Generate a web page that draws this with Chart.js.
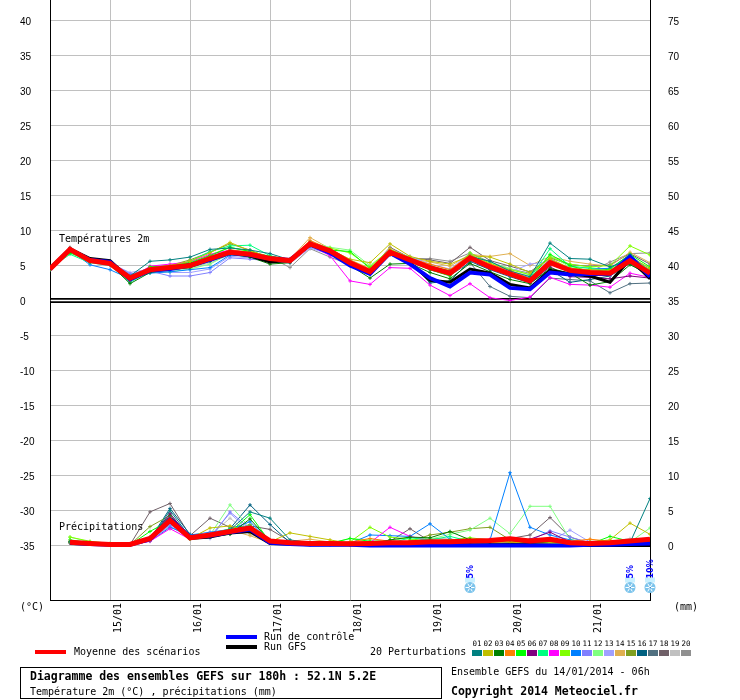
<!DOCTYPE html>
<html><head><meta charset="utf-8">
<script src="https://cdn.jsdelivr.net/npm/chart.js@4.4.1/dist/chart.umd.min.js"></script>
<style>html,body{margin:0;padding:0;background:#fff}canvas{display:block}</style>
</head><body>
<canvas id="c" width="740" height="700" style="width:740px;height:700px"></canvas>
<script>
// ---- categories / ticks ----
const hours = [0,6,12,18,24,30,36,42,48,54,60,66,72,78,84,90,96,102,108,114,120,126,132,138,144,150,156,162,168,174,180];
const dateTicks = [18,42,66,90,114,138,162];
const dateLabels = ['15/01','16/01','17/01','18/01','19/01','20/01','21/01'];
const tempTicks = [40,35,30,25,20,15,10,5,0,-5,-10,-15,-20,-25,-30,-35];
const precipTicks = [75,70,65,60,55,50,45,40,35,30,25,20,15,10,5,0];
const memberNames = ['01','02','03','04','05','06','07','08','09','10','11','12','13','14','15','16','17','18','19','20'];
const memberColors = ['#008080','#c0c000','#008000','#ff8000','#00ff00','#800080','#00ff80','#ff00ff','#80ff00','#0080ff','#8080ff','#80ff80','#a0a0ff','#e0b050','#80a020','#006080','#507080','#706068','#c0c0c0','#909090'];
const snowHours = [126,174,180];
const snowPct = [5,5,10];

// ---- temperature 2m (°C) ----
const tempMean    = [4.5,7.3,5.7,5.3,3.2,4.4,4.7,5.0,6.0,6.9, 6.6,6.0,5.7,8.1,7.1,5.4,4.1,6.9,5.8,4.7, 3.9,6.1,4.8,3.8,2.8,5.4,4.3,4.0,3.9,5.7, 3.9];
const tempControl = [4.5,7.3,5.8,5.5,3.0,4.3,4.5,5.0,5.8,6.8, 6.5,6.0,5.8,8.0,6.8,5.0,3.8,6.8,5.2,3.2, 2.0,4.0,3.7,1.8,1.6,4.0,3.7,3.8,3.8,6.3, 3.4];
const tempGfs     = [4.5,7.4,6.0,5.7,3.1,4.3,4.6,5.1,5.9,6.9, 6.4,5.5,5.7,8.0,7.0,5.2,3.9,6.9,5.4,2.9, 2.6,4.5,3.9,2.3,1.8,4.3,3.8,3.5,2.6,5.9, 3.1];
const tempMembers = [
 [4.6,7.2,5.6,5.4,3.5,5.6,5.8,6.2,7.3,7.5, 7.2,6.7,5.8,8.3,7.0,5.6,4.3,7.0,5.9,4.8, 4.2,6.3,5.6,4.2,3.4,8.2,6.0,5.9,4.8,5.8, 4.2],
 [4.5,7.4,5.8,5.3,3.0,4.6,5.0,5.6,6.8,8.3, 7.1,6.2,5.9,8.2,7.3,5.9,5.4,8.1,6.3,5.6, 5.2,6.4,6.2,5.2,4.0,6.0,4.6,4.4,4.3,6.2, 4.6],
 [4.4,7.0,5.5,5.2,2.4,4.0,4.4,4.7,5.6,6.6, 6.2,5.2,5.4,7.8,6.8,5.0,3.2,5.2,5.3,4.0, 3.1,5.3,4.1,3.0,2.4,4.6,3.9,2.2,2.7,5.1, 3.7],
 [4.5,7.3,5.7,5.3,3.3,4.5,4.8,5.2,6.2,7.2, 6.8,6.1,5.6,8.6,7.3,5.7,4.5,7.2,6.0,5.2, 4.4,6.5,5.2,4.3,3.1,5.8,4.6,4.2,4.1,6.0, 4.3],
 [4.6,6.8,5.6,5.3,2.9,4.8,4.9,5.4,6.4,7.6, 7.0,6.3,5.8,8.0,7.2,7.0,4.6,7.0,5.7,4.4, 3.5,5.9,4.6,3.6,3.0,6.6,5.0,4.1,4.5,6.6, 4.8],
 [4.4,7.2,5.6,5.1,2.8,4.2,4.5,5.1,6.1,7.1, 6.5,5.8,5.5,8.0,7.1,5.5,4.0,6.8,5.6,4.5, 3.7,5.8,4.5,3.6,2.6,4.8,3.4,3.3,3.1,3.5, 3.2],
 [4.6,6.6,5.4,5.0,2.6,4.2,4.8,5.6,7.0,7.8, 7.9,6.4,5.7,8.2,7.0,5.6,4.3,7.1,5.9,5.0, 4.1,6.6,5.0,4.0,3.2,7.4,4.9,4.6,4.2,6.1, 4.4],
 [4.5,7.3,5.7,5.4,3.1,4.9,5.2,5.5,6.6,7.2, 6.7,6.0,5.8,7.9,6.4,2.8,2.3,4.7,4.6,2.2, 0.7,2.4,0.4,0.0,0.5,3.3,2.3,2.2,1.9,3.9, 3.3],
 [4.5,7.1,5.7,5.3,3.0,4.1,4.6,5.2,6.5,7.6, 7.0,6.2,5.7,7.9,7.5,6.8,4.8,7.3,6.1,5.0, 4.0,6.8,5.3,4.4,3.7,6.2,5.2,4.8,5.0,7.8, 6.5],
 [4.4,7.2,5.1,4.4,3.1,3.9,4.1,4.4,4.7,6.5, 6.3,5.9,5.6,7.9,6.9,5.3,3.9,6.7,5.9,4.5, 3.7,5.9,4.6,3.5,2.7,5.9,4.3,4.5,4.6,6.5, 4.2],
 [4.6,7.3,5.8,5.5,3.8,4.2,3.5,3.5,4.0,6.1, 5.9,5.7,5.5,7.7,6.7,5.2,3.8,6.6,5.8,4.9, 4.0,6.0,4.6,3.9,3.3,5.3,4.0,3.7,3.6,5.5, 3.6],
 [4.5,7.0,5.6,5.2,2.9,4.0,4.1,4.5,5.2,6.7, 6.8,6.0,5.8,8.3,7.6,7.2,5.0,7.2,6.2,4.9, 4.3,6.4,5.4,4.6,3.6,6.4,4.8,4.7,4.4,6.3, 4.6],
 [4.5,7.2,5.6,5.3,4.0,4.5,4.0,4.0,4.5,6.3, 6.1,5.8,5.3,7.5,6.6,5.2,4.2,6.9,6.3,5.2, 4.5,6.7,4.9,4.1,5.2,5.6,4.7,4.3,3.8,5.8, 3.9],
 [4.5,7.3,5.8,5.4,3.4,4.5,4.7,5.1,6.1,7.3, 6.8,6.3,5.9,9.0,7.4,5.8,4.6,7.4,6.0,5.5, 4.9,6.6,6.3,6.7,5.0,6.3,5.6,5.2,4.9,6.9, 5.4],
 [4.4,7.2,5.7,5.3,3.2,4.8,5.0,5.8,6.9,8.1, 7.2,6.0,5.6,8.0,6.9,5.4,4.0,6.9,5.7,4.6, 3.9,5.8,4.9,3.7,2.9,5.2,4.2,3.9,3.7,5.9, 4.0],
 [4.5,7.4,5.9,5.4,3.3,4.6,4.9,5.3,6.1,7.1, 6.6,6.1,5.5,7.8,6.9,5.3,4.2,6.8,5.6,2.5, 2.8,5.6,4.4,3.4,2.5,4.4,2.6,3.0,3.5,5.3, 3.3],
 [4.5,7.3,5.8,5.4,3.2,4.5,4.8,5.0,5.9,6.9, 6.4,5.9,5.7,8.1,7.0,5.1,3.8,6.5,5.5,4.4, 3.6,5.4,2.0,0.6,0.4,3.2,3.0,2.8,1.1,2.4, 2.5],
 [4.6,7.5,5.9,5.6,3.6,4.7,4.9,5.3,6.3,7.2, 6.9,6.1,5.8,8.4,7.2,5.8,4.4,7.6,6.1,5.8, 5.3,7.6,5.7,4.9,4.1,6.1,5.1,4.9,5.1,6.7, 5.2],
 [4.7,7.4,5.8,5.3,3.4,4.1,4.3,4.6,5.4,6.5, 6.4,6.0,5.9,7.6,6.6,5.2,4.3,6.5,5.8,4.8, 4.2,6.2,5.1,4.2,3.5,5.9,4.5,4.4,4.6,6.4, 4.0],
 [4.9,7.6,5.9,5.5,3.7,4.3,4.6,4.9,5.8,6.8, 6.7,6.2,4.7,7.4,6.2,5.1,4.4,6.7,5.9,6.0, 5.6,6.8,5.5,4.5,3.9,5.7,4.4,4.1,5.5,6.7, 6.8]
];

// ---- precipitation (mm / 6h) ----
const precipMean    = [null,0.45,0.3,0.15,0.15,1.0,3.6,1.1,1.5,2.0, 2.5,0.65,0.4,0.3,0.3,0.25,0.3,0.4,0.4,0.55, 0.55,0.65,0.7,0.95,0.65,0.9,0.4,0.3,0.4,0.65, 0.9];
const precipControl = [null,0.4,0.2,0.1,0.1,0.9,3.8,1.2,1.4,1.9, 2.3,0.4,0.2,0.1,0.1,0.1,0.0,0.0,0.0,0.0, 0.0,0.0,0.0,0.0,0.0,0.0,0.0,0.1,0.1,0.2, 0.3];
const precipGfs     = [null,0.3,0.2,0.1,0.1,0.9,3.5,1.0,1.2,1.8, 2.0,0.3,0.2,0.1,0.1,0.1,0.1,0.1,0.1,0.1, 0.1,0.1,0.1,0.1,0.1,0.0,0.0,0.0,0.0,0.0, 0.0];
const precipMembers = [
 [null,0.5,0.3,0.1,0.2,0.8,5.0,1.2,1.4,2.2, 4.8,3.9,0.8,0.4,0.3,0.2,0.3,0.5,0.3,0.6, 0.4,0.5,0.6,0.8,0.5,0.8,0.3,0.2,0.3,0.4, 6.7],
 [null,0.4,0.3,0.1,0.1,0.9,4.0,1.0,2.5,2.8, 1.8,0.5,1.8,1.3,0.8,0.3,0.2,0.3,0.4,0.5, 0.6,0.5,0.4,0.6,0.2,0.4,0.3,0.5,0.8,3.2, 1.6],
 [null,0.5,0.3,0.2,0.1,1.2,4.2,1.3,1.2,1.6, 3.8,0.6,0.3,0.2,0.2,0.1,0.2,0.8,1.2,1.1, 2.0,0.8,0.5,0.7,0.3,0.5,0.4,0.3,0.2,0.5, 0.7],
 [null,0.6,0.4,0.2,0.1,0.7,3.9,1.1,1.5,2.1, 2.3,0.4,0.3,0.2,0.3,0.5,1.0,0.6,0.5,0.4, 0.3,0.4,0.5,0.5,0.3,0.4,0.6,0.9,0.6,0.5, 0.8],
 [null,0.8,0.4,0.2,0.1,2.0,3.6,0.9,1.4,1.9, 4.4,0.5,0.3,0.4,0.3,1.0,0.6,0.3,0.5,0.7, 0.6,0.9,0.7,0.5,0.4,0.6,0.3,0.2,1.3,0.6, 0.9],
 [null,0.4,0.3,0.1,0.1,1.1,4.5,1.2,1.3,1.7, 2.1,0.5,0.3,0.2,0.2,0.2,0.3,0.4,0.6,0.5, 0.5,0.4,0.7,0.6,0.9,1.9,0.5,0.3,0.2,0.4, 0.5],
 [null,0.5,0.3,0.1,0.2,0.9,3.4,1.4,1.6,2.4, 2.8,0.6,0.2,0.3,0.2,0.3,0.4,0.3,1.1,0.8, 1.3,0.6,0.5,0.7,0.4,0.5,0.2,0.4,0.5,0.7, 0.6],
 [null,0.5,0.2,0.1,0.1,0.6,2.4,0.9,1.7,2.2, 2.0,0.4,0.2,0.1,0.1,0.2,0.4,2.6,1.3,0.7, 0.5,0.6,0.9,0.6,0.3,0.5,0.4,0.2,0.3,0.3, 0.4],
 [null,1.2,0.6,0.3,0.1,0.8,3.8,1.0,1.2,1.8, 2.2,0.3,0.2,0.3,0.4,0.5,2.6,1.2,0.9,0.6, 0.8,1.1,0.8,0.5,0.4,0.3,0.2,0.3,0.4,0.6, 0.7],
 [null,0.4,0.3,0.1,0.1,0.6,2.6,1.5,1.9,2.3, 3.4,0.6,0.3,0.2,0.2,0.3,1.5,1.4,1.3,3.1, 0.9,0.6,0.8,10.4,2.6,1.5,0.8,0.4,0.3,0.5, 0.6],
 [null,0.5,0.3,0.1,0.1,0.7,3.0,1.1,1.0,4.8, 2.4,0.4,0.3,0.2,0.2,0.2,0.3,0.4,0.5,0.6, 0.4,0.5,0.6,0.9,0.7,2.1,1.2,0.4,0.3,0.6, 0.8],
 [null,1.2,0.5,0.2,0.1,0.9,3.2,1.3,1.5,5.8, 2.5,0.5,0.3,0.2,0.3,1.0,0.8,0.6,1.2,0.9, 1.6,2.2,3.9,1.7,5.6,5.6,0.9,0.4,0.3,0.5, 2.5],
 [null,0.4,0.3,0.1,0.1,0.8,2.8,1.0,1.3,4.6, 2.0,0.5,0.3,0.2,0.2,0.2,0.5,0.7,0.4,0.5, 0.6,0.8,0.7,0.8,0.5,0.6,2.2,0.5,0.4,0.3, 0.6],
 [null,0.5,0.4,0.2,0.1,0.7,3.5,1.1,1.5,2.2, 1.4,0.4,0.6,0.9,0.5,0.3,0.6,0.5,0.4,0.5, 0.6,0.7,0.5,0.6,0.4,0.5,0.3,0.6,0.7,0.5, 0.9],
 [null,0.4,0.3,0.1,0.1,2.7,4.3,1.2,1.4,2.0, 3.0,0.5,0.3,0.2,0.2,0.2,0.3,0.4,0.6,1.5, 1.9,2.4,2.6,0.8,0.4,0.5,0.3,0.2,0.3,0.4, 0.5],
 [null,0.5,0.3,0.1,0.1,0.9,5.3,1.6,1.3,2.4, 5.8,3.0,0.4,0.2,0.2,0.3,0.4,0.3,0.5,0.7, 0.5,0.6,0.4,0.3,0.2,0.3,0.4,0.3,0.2,0.4, 0.6],
 [null,0.4,0.2,0.1,0.1,1.0,4.6,1.0,1.2,1.7, 2.2,0.6,0.3,0.3,0.2,0.3,0.2,0.3,0.4,0.4, 0.4,0.5,0.6,0.5,0.3,0.4,0.3,0.2,0.5,0.4, 0.5],
 [null,0.5,0.3,0.1,0.1,4.8,6.0,1.4,3.9,2.6, 2.8,2.3,0.6,0.3,0.2,0.3,0.4,0.6,2.4,0.6, 0.8,0.6,0.5,1.0,1.5,4.0,1.2,0.3,0.4,0.5, 0.6],
 [null,0.4,0.3,0.1,0.1,0.8,2.7,1.2,1.4,3.9, 1.6,0.6,0.4,0.3,0.2,0.2,0.3,0.4,0.5,0.5, 0.6,0.6,0.7,0.4,0.5,0.4,0.4,0.3,0.6,1.0, 0.9],
 [null,0.5,0.4,0.1,0.1,1.0,3.1,1.3,1.5,2.1, 2.6,0.5,0.3,0.2,0.2,0.3,0.3,0.4,0.6,1.0, 0.9,0.7,0.6,0.8,0.5,0.6,0.4,0.3,0.4,0.5, 0.7]
];

// ---- build datasets ----
const xy = arr => hours.map((h, i) => ({x: h, y: arr[i]}));
const datasets = [];
function addMain(arr, axis, color, width, order) {
  datasets.push({data: xy(arr), yAxisID: axis, borderColor: color, backgroundColor: color,
    borderWidth: width, pointRadius: 0, order: order, spanGaps: false});
}
addMain(tempMean, 'y', '#ff0000', 5, 0);
addMain(precipMean, 'y2', '#ff0000', 5, 0);
addMain(tempControl, 'y', '#0000ff', 4, 1);
addMain(precipControl, 'y2', '#0000ff', 4, 1);
addMain(tempGfs, 'y', '#000000', 3, 2);
addMain(precipGfs, 'y2', '#000000', 3, 2);
tempMembers.forEach((arr, k) => {
  datasets.push({data: xy(arr), yAxisID: 'y', borderColor: memberColors[k], backgroundColor: memberColors[k],
    borderWidth: 1, pointStyle: 'cross', pointRadius: 1.8, pointBorderWidth: 1, order: 3 + k});
});
precipMembers.forEach((arr, k) => {
  datasets.push({data: xy(arr), yAxisID: 'y2', borderColor: memberColors[k], backgroundColor: memberColors[k],
    borderWidth: 1, pointStyle: 'cross', pointRadius: 1.8, pointBorderWidth: 1, order: 3 + k});
});

const MONO = '"DejaVu Sans Mono", monospace';

function txt(ctx, s, x, y, font, color, align) {
  ctx.font = font; ctx.fillStyle = color || '#000';
  ctx.textAlign = align || 'left'; ctx.textBaseline = 'middle';
  ctx.fillText(s, x, y);
}

function snowIcon(ctx, cx, cy) {
  ctx.fillStyle = '#c8f0ff';
  ctx.fillRect(cx - 5, cy - 10, 10, 5);
  ctx.beginPath(); ctx.arc(cx, cy, 5.5, 0, Math.PI * 2);
  ctx.fillStyle = '#7cc4ec'; ctx.fill();
  ctx.strokeStyle = '#ffffff'; ctx.lineWidth = 1;
  for (let a = 0; a < 3; a++) {
    const ang = a * Math.PI / 3;
    ctx.beginPath();
    ctx.moveTo(cx - 4.5 * Math.cos(ang), cy - 4.5 * Math.sin(ang));
    ctx.lineTo(cx + 4.5 * Math.cos(ang), cy + 4.5 * Math.sin(ang));
    ctx.stroke();
  }
  ctx.fillStyle = '#3a8fd0';
  ctx.fillRect(cx - 0.5, cy - 0.5, 1.5, 1.5);
}

const deco = {
  id: 'deco',
  beforeDatasetsDraw(chart) {
    const {ctx, chartArea: a, scales: {y}} = chart;
    const p0 = y.getPixelForValue(0);
    ctx.save();
    ctx.strokeStyle = '#000'; ctx.lineWidth = 1.6;
    [p0 - 1.6, p0 + 1.6].forEach(py => {
      ctx.beginPath(); ctx.moveTo(a.left, py); ctx.lineTo(a.right, py); ctx.stroke();
    });
    ctx.restore();
  },
  afterDraw(chart) {
    const {ctx, chartArea: a, scales: {x, y}} = chart;
    ctx.save();
    // panel titles
    txt(ctx, 'Températures 2m', a.left + 9, y.getPixelForValue(10) + 9, '10px ' + MONO, '#000');
    txt(ctx, 'Précipitations', a.left + 9, y.getPixelForValue(-30) + 17, '10px ' + MONO, '#000');
    // snow probability icons
    snowHours.forEach((h, i) => {
      const cx = x.getPixelForValue(h);
      const cy = y.getPixelForValue(-41);
      snowIcon(ctx, cx, cy);
      ctx.save();
      ctx.translate(cx + 0.5, cy - 9);
      ctx.rotate(-Math.PI / 2);
      txt(ctx, snowPct[i] + '%', 0, 0, 'bold 8px "DejaVu Sans"', '#0000ff', 'left');
      ctx.restore();
    });
    // units
    txt(ctx, '(°C)', 20, 607, '10px ' + MONO, '#000');
    txt(ctx, '(mm)', 674, 607, '10px ' + MONO, '#000');
    // legend
    ctx.fillStyle = '#ff0000'; ctx.fillRect(35, 650, 31, 4);
    txt(ctx, 'Moyenne des scénarios', 74, 652, '10px ' + MONO);
    ctx.fillStyle = '#0000ff'; ctx.fillRect(226, 635, 31, 4);
    txt(ctx, 'Run de contrôle', 264, 637, '10px ' + MONO);
    ctx.fillStyle = '#000000'; ctx.fillRect(226, 645, 31, 4);
    txt(ctx, 'Run GFS', 264, 647, '10px ' + MONO);
    txt(ctx, '20 Perturbations', 370, 652, '10px ' + MONO);
    memberNames.forEach((n, k) => {
      const sx = 472 + 11 * k;
      ctx.fillStyle = memberColors[k]; ctx.fillRect(sx, 650, 10, 6);
      txt(ctx, n, sx + 5, 644, '7.5px ' + MONO, '#000', 'center');
    });
    // footer box
    ctx.strokeStyle = '#000'; ctx.lineWidth = 1;
    ctx.strokeRect(20.5, 667.5, 421, 31);
    txt(ctx, 'Diagramme des ensembles GEFS sur 180h : 52.1N 5.2E', 30, 677, 'bold 11.5px ' + MONO);
    txt(ctx, 'Température 2m (°C) , précipitations (mm)', 30, 692, '10px ' + MONO);
    txt(ctx, 'Ensemble GEFS du 14/01/2014 - 06h', 451, 672, '10px ' + MONO);
    txt(ctx, 'Copyright 2014 Meteociel.fr', 451, 692, 'bold 11.5px ' + MONO);
    ctx.restore();
  }
};

new Chart(document.getElementById('c'), {
  type: 'line',
  data: {datasets: datasets},
  plugins: [deco],
  options: {
    responsive: false, animation: false, devicePixelRatio: 1,
    layout: {autoPadding: false, padding: {left: 20, right: 0, top: 0, bottom: 0}},
    plugins: {legend: {display: false}, tooltip: {enabled: false}},
    elements: {line: {tension: 0}},
    scales: {
      x: {
        type: 'linear', min: 0, max: 180, position: 'bottom',
        afterBuildTicks: s => { s.ticks = dateTicks.map(v => ({value: v})); },
        afterFit: s => { s.height = 100; s.paddingLeft = 0; s.paddingRight = 0; },
        grid: {color: '#c0c0c0', drawTicks: false, lineWidth: 1},
        border: {color: '#000', width: 1},
        ticks: {autoSkip: false, minRotation: 90, maxRotation: 90, padding: 3, labelOffset: 8,
          color: '#000', font: {family: 'DejaVu Sans Mono', size: 10},
          callback: (v, i) => dateLabels[i]}
      },
      y: {
        type: 'linear', position: 'left', min: -42.786, max: 42.929,
        afterBuildTicks: s => { s.ticks = tempTicks.map(v => ({value: v})); },
        afterFit: s => { s.width = 30; s.paddingTop = 0; s.paddingBottom = 0; },
        grid: {color: c => (c.tick && c.tick.value === 0) ? 'rgba(0,0,0,0)' : '#c0c0c0', drawTicks: false},
        border: {color: '#000', width: 1},
        ticks: {crossAlign: 'far', padding: 0, labelOffset: 2, color: '#000',
          font: {family: 'Liberation Sans', size: 10}}
      },
      y2: {
        type: 'linear', position: 'right', min: -7.786, max: 77.929,
        afterBuildTicks: s => { s.ticks = precipTicks.map(v => ({value: v})); },
        afterFit: s => { s.width = 90; s.paddingTop = 0; s.paddingBottom = 0; },
        grid: {display: false, drawTicks: false},
        border: {display: true, color: '#000', width: 1},
        ticks: {padding: 18, labelOffset: 2, color: '#000', font: {family: 'Liberation Sans', size: 10}}
      }
    }
  }
});
</script>
</body></html>
